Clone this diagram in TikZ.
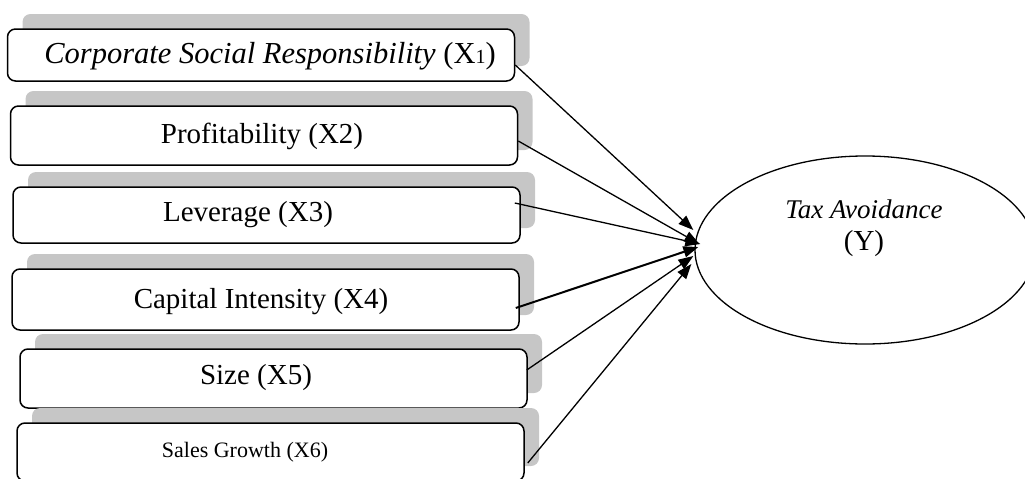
\documentclass[tikz,border=0pt]{standalone}
\usepackage{fontspec}
\setmainfont{Liberation Serif}
\usetikzlibrary{shapes.geometric,arrows.meta,shadows}
\definecolor{shadowgray}{RGB}{198,198,198}
\tikzset{
  varbox/.style={draw=black, line width=1.5pt, rounded corners=8pt, fill=white,
    inner sep=0pt, anchor=center, minimum width=507pt,
    drop shadow={shadow xshift=15pt, shadow yshift=15pt, fill=shadowgray, opacity=1}},
  bigtext/.style={font=\fontsize{29}{31}\selectfont, inner sep=0pt},
  link/.style={line width=1.3pt, -{Triangle[length=15pt,width=11pt]}},
}
\begin{document}
\begin{tikzpicture}[x=1pt,y=-1pt]
\useasboundingbox (0,0) rectangle (1025,479);
\clip (0,0) rectangle (1025,479);
% boxes
\node[varbox, minimum height=52pt] (b1) at (261,55) {};
\node[varbox, minimum height=59pt] (b2) at (264,135.5) {};
\node[varbox, minimum height=56pt] (b3) at (266.5,215) {};
\node[varbox, minimum height=61pt] (b4) at (265.5,299.5) {};
\node[varbox, minimum height=59pt] (b5) at (273.5,378.5) {};
\node[varbox, minimum height=58pt] (b6) at (270.5,452) {};
% box texts
\node[inner sep=0pt, font=\fontsize{30.5}{32}\selectfont] (t1) at (270,56)
  {\textit{Corporate Social Responsibility} (X{\fontsize{20}{20}\selectfont 1})};
\node[bigtext] (t2) at (262,136) {Profitability (X2)};
\node[bigtext] (t3) at (248,215) {Leverage (X3)};
\node[bigtext] (t4) at (261,302) {Capital Intensity (X4)};
\node[bigtext] (t5) at (256,378) {Size (X5)};
\node[inner sep=0pt, font=\fontsize{22}{24}\selectfont] (t6) at (245,452) {Sales Growth (X6)};
% ellipse
\node[draw=black, line width=1.3pt, ellipse, minimum width=340pt, minimum height=188pt, inner sep=0pt] (y) at (865,250) {};
\node[font=\fontsize{27}{29}\selectfont\itshape, inner sep=0pt] (yt) at (864,209) {Tax Avoidance};
\node[font=\fontsize{29}{31}\selectfont, inner sep=0pt] (yl) at (864,244) {(Y)};
% arrows
\draw[link] ([yshift=-10pt]b1.east) -- ([xshift=-1pt,yshift=20pt]y.west);
\draw[link] ([yshift=-5.5pt]b2.east) -- ([xshift=5pt,yshift=6pt]y.west);
\draw[link] ([xshift=-6pt,yshift=12pt]b3.east) -- ([xshift=6pt,yshift=6pt]y.west);
\draw[link, line width=2pt] ([xshift=-4pt,yshift=-8.5pt]b4.east) -- ([xshift=4pt,yshift=3pt]y.west);
\draw[link] ([xshift=-1pt,yshift=8.5pt]b5.east) -- ([xshift=-1pt,yshift=-6pt]y.west);
\draw[link] ([xshift=3pt,yshift=-11pt]b6.east) -- ([xshift=-3pt,yshift=-14pt]y.west);
\end{tikzpicture}
\end{document}
